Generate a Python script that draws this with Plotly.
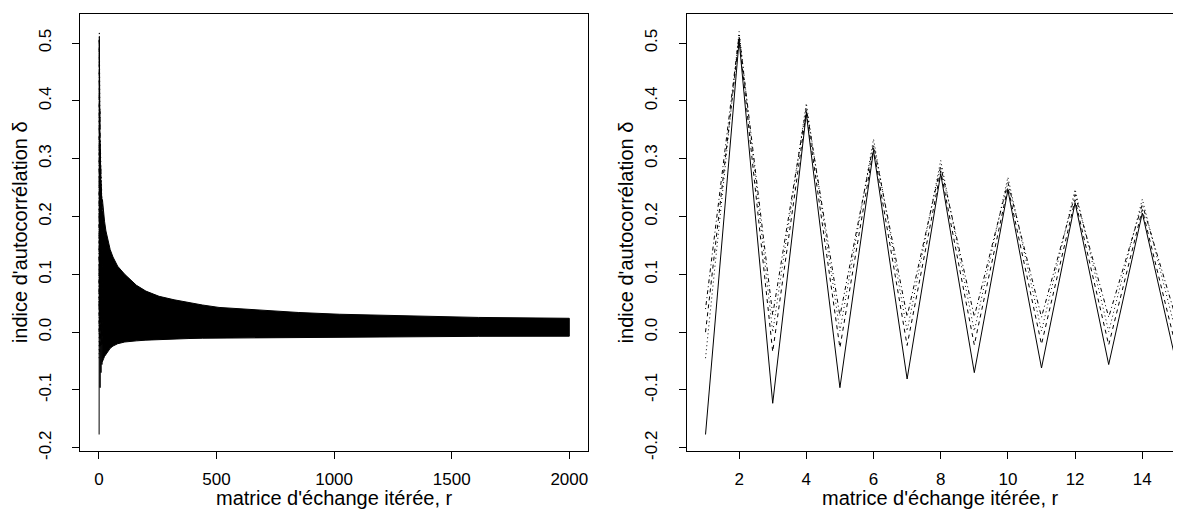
import plotly.graph_objects as go

# ---- data ----
r_short = list(range(1, 16))
serie_solid = [-0.177, 0.505, -0.123, 0.378, -0.096, 0.314, -0.081, 0.274, -0.070, 0.246, -0.062, 0.224, -0.056, 0.206, -0.051]
serie_dash = [0.000, 0.510, -0.034, 0.382, -0.027, 0.318, -0.023, 0.279, -0.022, 0.251, -0.021, 0.229, -0.022, 0.212, -0.025]
serie_dot = [-0.045, 0.520, 0.000, 0.396, 0.002, 0.334, 0.002, 0.297, 0.002, 0.268, 0.002, 0.247, 0.001, 0.230, 0.000]
serie_dotdash = [0.040, 0.514, 0.030, 0.388, 0.028, 0.325, 0.027, 0.287, 0.027, 0.259, 0.026, 0.238, 0.026, 0.221, 0.025]

# envelope of the long (r = 15 .. 2000) oscillating series
r_env = [15, 20, 24, 30, 40, 48, 60, 80, 110, 160, 200, 256, 320, 383, 440, 511, 620, 735, 850, 1022, 1300, 1613, 2000]
env_upper = [0.230, 0.205, 0.192, 0.175, 0.155, 0.143, 0.130, 0.114, 0.100, 0.081, 0.071, 0.062, 0.056, 0.051, 0.047, 0.0428, 0.040, 0.037, 0.034, 0.031, 0.028, 0.0255, 0.024]
env_lower = [-0.051, -0.046, -0.042, -0.038, -0.032, -0.028, -0.024, -0.020, -0.017, -0.015, -0.0138, -0.0125, -0.0117, -0.011, -0.0105, -0.010, -0.0096, -0.0092, -0.0089, -0.0085, -0.0078, -0.0072, -0.007]

x_ticks_left = [0, 500, 1000, 1500, 2000]
x_ticks_right = [2, 4, 6, 8, 10, 12, 14]
y_ticks = [-0.2, -0.1, 0.0, 0.1, 0.2, 0.3, 0.4, 0.5]
y_tick_text = ["-0.2", "-0.1", "0.0", "0.1", "0.2", "0.3", "0.4", "0.5"]

xlabel = "matrice d'échange itérée, r"
ylabel = "indice d'autocorrélation δ"

# ---- figure ----
W, H = 1181, 510
FONT = "Liberation Sans, Arial, Helvetica, sans-serif"
TICK_SIZE = 17
TITLE_SIZE = 20

series = [
    (serie_solid, "solid"),
    (serie_dash, "4px,4px"),
    (serie_dot, "1px,3px"),
    (serie_dotdash, "1px,3px,4px,3px"),
]

fig = go.Figure()

# left panel: envelope band + early spikes
fig.add_trace(go.Scatter(
    x=r_env + r_env[::-1], y=env_upper + env_lower[::-1],
    mode="lines", fill="toself", fillcolor="black",
    line=dict(color="black", width=1), xaxis="x", yaxis="y", showlegend=False,
    hoverinfo="skip"))
for vals, dash in series:
    fig.add_trace(go.Scatter(x=r_short, y=vals, mode="lines",
                             line=dict(color="black", width=1, dash=dash),
                             xaxis="x", yaxis="y", showlegend=False))

# right panel
for vals, dash in series:
    fig.add_trace(go.Scatter(x=r_short, y=vals, mode="lines",
                             line=dict(color="black", width=1, dash=dash),
                             xaxis="x2", yaxis="y2", showlegend=False))

def px_x(p):
    return p / W

def px_y(p):
    return 1 - p / H

box_top, box_bot = 6, 450.7
ydom = [px_y(box_bot), px_y(box_top)]
yrange = [-0.2051, 0.5505]

axis_common = dict(
    showgrid=False, zeroline=False, showline=True, linecolor="black", linewidth=1,
    ticks="outside", ticklen=7, tickcolor="black", tickwidth=1,
    tickfont=dict(family=FONT, size=TICK_SIZE, color="black"),
)

fig.update_layout(
    width=W, height=H,
    margin=dict(l=0, r=0, t=0, b=0),
    paper_bgcolor="white", plot_bgcolor="white",
    font=dict(family=FONT, size=TICK_SIZE, color="black"),
    xaxis=dict(domain=[px_x(72.3), px_x(580.1)], range=[-78.96, 2079.96],
               tickvals=x_ticks_left, ticktext=[str(v) for v in x_ticks_left],
               ticklabelstandoff=6, mirror=True, anchor="y", **axis_common),
    yaxis=dict(domain=ydom, range=yrange, tickvals=y_ticks, ticktext=y_tick_text,
               tickangle=-90, ticklabelstandoff=15, mirror=True, anchor="x", **axis_common),
    xaxis2=dict(domain=[px_x(678.7), 1.0], range=[0.44, 15.39],
                tickvals=x_ticks_right, ticktext=[str(v) for v in x_ticks_right],
                ticklabelstandoff=6, mirror=True, anchor="y2", **axis_common),
    yaxis2=dict(domain=ydom, range=yrange, tickvals=y_ticks, ticktext=y_tick_text,
                tickangle=-90, ticklabelstandoff=15, mirror=False, anchor="x2", **axis_common),
)

annotations = []
for cx in [(72.3 + 580.1) / 2, (678.7 + 1181 + 5.7) / 2]:
    annotations.append(dict(text=xlabel, x=px_x(cx), y=px_y(499), xref="paper", yref="paper",
                            xanchor="center", yanchor="middle", showarrow=False,
                            font=dict(family=FONT, size=TITLE_SIZE, color="black")))
for cx in [20.8 - 8, 626 - 8]:
    annotations.append(dict(text=ylabel, x=px_x(cx), y=px_y((box_top + box_bot) / 2),
                            xref="paper", yref="paper", textangle=-90,
                            xanchor="center", yanchor="middle", showarrow=False,
                            font=dict(family=FONT, size=TITLE_SIZE, color="black")))
fig.update_layout(annotations=annotations)

fig.write_html("out.html")
